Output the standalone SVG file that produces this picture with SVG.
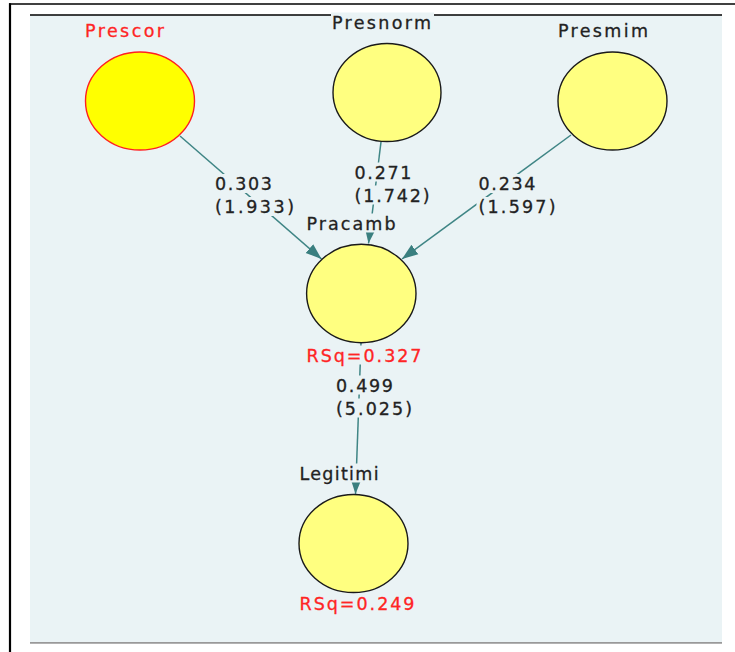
<svg xmlns="http://www.w3.org/2000/svg" width="735" height="652" viewBox="0 0 735 652">
<style>
  .t { font-family: "DejaVu Sans", Verdana, sans-serif; font-size: 17.5px; fill: #222222; stroke: #222222; stroke-width: 0.3; }
  .red { fill: #ff2424; stroke: #ff2424; }
  .bg { fill: #eaf3f5; }
  .node { fill: #ffff80; stroke: #1a1a1a; stroke-width: 1.4; }
  .sel { fill: #ffff00; stroke: #ff2020; stroke-width: 1.4; }
  .edge { stroke: #3f8585; stroke-width: 1.5; fill: none; marker-end: url(#arr); }
</style>
<defs>
  <marker id="arr" markerUnits="userSpaceOnUse" markerWidth="18" markerHeight="14" refX="16" refY="7" orient="auto">
    <path d="M0,1.2 L16,7 L0,12.8 Z" fill="#3a7f7f"/>
  </marker>
</defs>
<rect x="0" y="0" width="735" height="652" fill="#ffffff"/>
<!-- outer frame -->
<line x1="9" y1="4" x2="735" y2="4" stroke="#000" stroke-width="1.6"/>
<line x1="10" y1="3.2" x2="10" y2="652" stroke="#000" stroke-width="2.2"/>
<!-- panel -->
<rect x="30" y="15" width="692" height="627" fill="#eaf3f5"/>
<line x1="30" y1="15" x2="722" y2="15" stroke="#000" stroke-width="1.3"/>
<line x1="30" y1="642.8" x2="722" y2="642.8" stroke="#999" stroke-width="1.8"/>

<g id="connectors">
  <line class="edge" x1="180" y1="136" x2="321.5" y2="259"/>
  <line class="edge" x1="381" y1="142" x2="368.5" y2="243.5"/>
  <line class="edge" x1="571" y1="135" x2="402" y2="259"/>
  <line class="edge" x1="361" y1="343" x2="355.5" y2="494"/>
</g>

<g id="node-prescor">
  <ellipse class="sel" cx="140" cy="101" rx="54.5" ry="49"/>
  <rect class="bg" x="83" y="21" width="83" height="19"/>
  <text class="t red" x="85" y="37" textLength="79" lengthAdjust="spacing">Prescor</text>
</g>
<g id="node-presnorm">
  <ellipse class="node" cx="387" cy="92.5" rx="54" ry="49"/>
  <rect class="bg" x="331" y="12.5" width="103" height="19"/>
  <text class="t" x="332" y="28.5" textLength="99" lengthAdjust="spacing">Presnorm</text>
</g>
<g id="node-presmim">
  <ellipse class="node" cx="612.5" cy="101" rx="54.5" ry="49"/>
  <rect class="bg" x="556" y="21" width="94" height="19"/>
  <text class="t" x="558" y="37" textLength="90" lengthAdjust="spacing">Presmim</text>
</g>
<g id="node-pracamb">
  <ellipse class="node" cx="361.3" cy="293.5" rx="54.7" ry="49.2"/>
  <rect class="bg" x="304.5" y="213.5" width="93" height="19"/>
  <text class="t" x="306.5" y="229.5" textLength="89" lengthAdjust="spacing">Pracamb</text>
  <rect class="bg" x="304.5" y="345.5" width="119" height="19"/>
  <text class="t red" x="306.5" y="361.5" textLength="115" lengthAdjust="spacing">RSq=0.327</text>
</g>
<g id="node-legitimi">
  <ellipse class="node" cx="353.5" cy="543.5" rx="54.5" ry="49"/>
  <rect class="bg" x="297.5" y="463.5" width="83" height="19"/>
  <text class="t" x="299.5" y="479.5" textLength="79" lengthAdjust="spacing">Legitimi</text>
  <rect class="bg" x="297.5" y="594" width="119" height="19"/>
  <text class="t red" x="299.5" y="610" textLength="115" lengthAdjust="spacing">RSq=0.249</text>
</g>

<g id="edge-labels">
  <rect class="bg" x="213" y="174" width="61" height="19"/>
  <text class="t" x="215" y="190" textLength="57" lengthAdjust="spacing">0.303</text>
  <rect class="bg" x="213" y="197" width="83" height="19"/>
  <text class="t" x="215" y="213" textLength="79" lengthAdjust="spacing">(1.933)</text>

  <rect class="bg" x="352.5" y="162.5" width="61" height="19"/>
  <text class="t" x="354.5" y="178.5" textLength="57" lengthAdjust="spacing">0.271</text>
  <rect class="bg" x="352.5" y="185.5" width="79" height="19"/>
  <text class="t" x="354.5" y="201.5" textLength="75" lengthAdjust="spacing">(1.742)</text>

  <rect class="bg" x="476.5" y="174" width="61" height="19"/>
  <text class="t" x="478.5" y="190" textLength="57" lengthAdjust="spacing">0.234</text>
  <rect class="bg" x="476.5" y="197" width="81" height="19"/>
  <text class="t" x="478.5" y="213" textLength="77" lengthAdjust="spacing">(1.597)</text>

  <rect class="bg" x="334" y="375.5" width="61" height="19"/>
  <text class="t" x="336" y="391.5" textLength="57" lengthAdjust="spacing">0.499</text>
  <rect class="bg" x="334" y="398.5" width="80" height="19"/>
  <text class="t" x="336" y="414.5" textLength="76" lengthAdjust="spacing">(5.025)</text>
</g>
</svg>
